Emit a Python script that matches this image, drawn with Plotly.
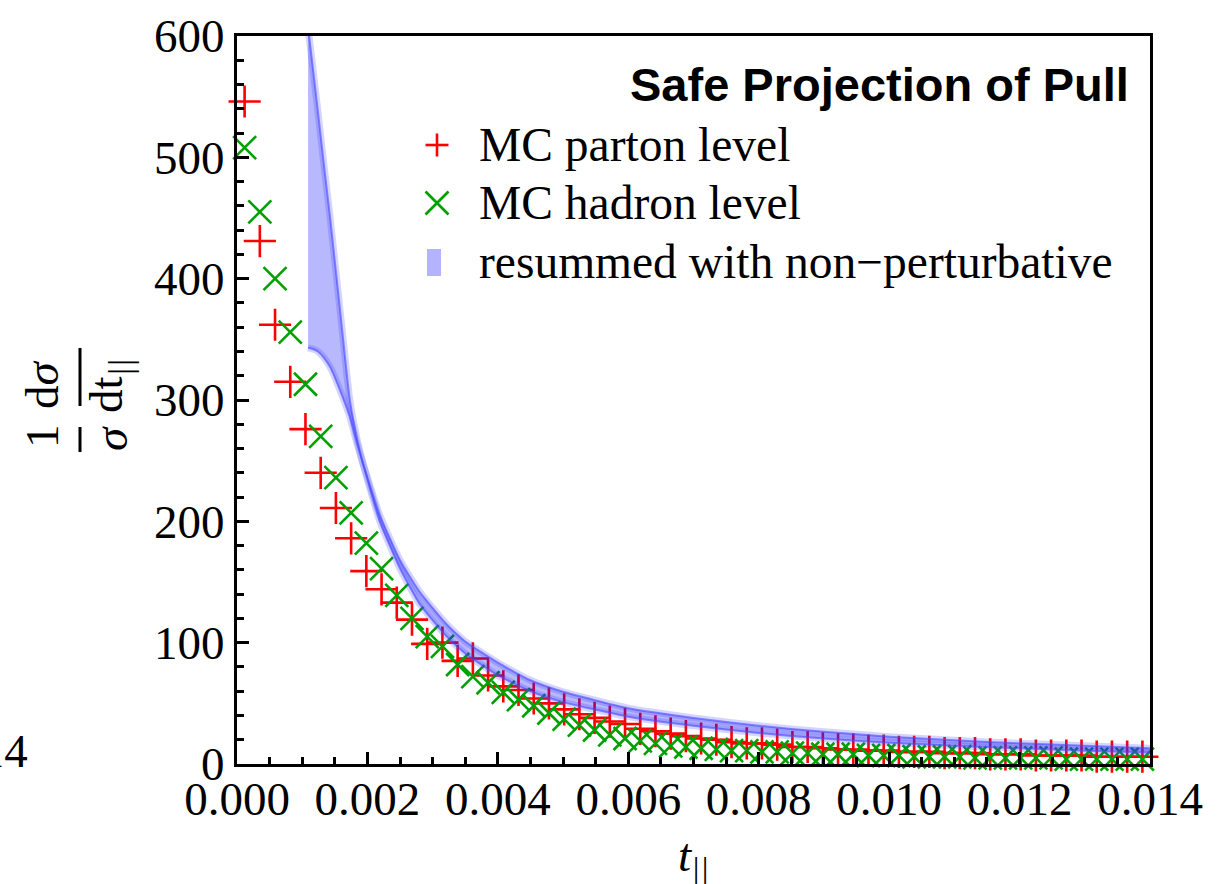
import plotly.graph_objects as go

# ---------------- data ----------------
N_BINS = 60
T_MAX = 0.014
BIN_WIDTH = T_MAX / N_BINS
t_bins = [round((i + 0.5) * BIN_WIDTH, 8) for i in range(N_BINS)]

parton = [546, 431, 362, 315, 276, 240, 211, 186, 159, 144,
          133, 119, 99, 100, 85, 87, 73, 64, 61, 54,
          50, 45, 41, 38, 35, 33, 29, 27, 25, 23,
          21, 20, 18, 17, 17, 16, 14, 14, 13, 12,
          12, 11, 11, 10, 10, 10, 9, 9, 9, 8,
          8, 8, 7, 7, 7, 7, 6, 6, 6, 6]

hadron = [508, 455, 400, 356, 313, 270, 236, 207, 182, 161,
          139, 120, 105, 97, 82, 72, 67, 59, 53, 48,
          42, 37, 32, 28, 24, 21, 19, 17, 15, 14,
          13, 12, 11, 11, 10, 10, 9, 9, 8, 8,
          8, 7, 7, 7, 6, 6, 6, 6, 5, 5,
          5, 5, 5, 5, 4, 4, 4, 4, 4, 4]

band_t = [0.00109, 0.00116, 0.00124, 0.00133, 0.00143, 0.00158, 0.00173,
          0.00184, 0.00193, 0.00219, 0.0025, 0.0028, 0.0032, 0.0035,
          0.004, 0.0045, 0.005, 0.006, 0.007, 0.008, 0.009, 0.010,
          0.011, 0.012, 0.013, 0.014]
band_a = [607, 575, 538, 495, 449, 374, 300,
          268, 248, 200, 161, 132, 106, 91,
          73, 60, 51, 39, 31.5, 25.5, 21, 17.5,
          15, 13, 11, 9.5]
band_b = [343, 342, 340, 335, 327, 308, 286,
          264, 248, 205, 168, 142, 116, 101,
          83.5, 69, 59.5, 46, 38, 31.5, 26.5, 22.5,
          19.5, 17, 15, 13]

x_tick_vals = [0.000, 0.002, 0.004, 0.006, 0.008, 0.010, 0.012, 0.014]
x_tick_text = ["0.000", "0.002", "0.004", "0.006", "0.008", "0.010", "0.012", "0.014"]
y_tick_vals = [0, 100, 200, 300, 400, 500, 600]

legend_labels = ["MC parton level", "MC hadron level", "resummed with non\u2212perturbative"]
title_text = "Safe Projection of Pull"

# ---------------- layout geometry ----------------
W, H = 1227, 884
L, R, T, B = 237, 1150, 36, 764
PW, PH = R - L, B - T


def px(xp):
    return (xp - L) / PW


def py(yp):
    return (B - yp) / PH


SERIF = "Liberation Serif, Times New Roman, serif"
RED = "#ff0000"
GREEN = "#00a000"
BAND_FILL = "rgba(0,0,255,0.28)"
BAND_HALO = "rgba(60,60,255,0.22)"
BAND_LINE = "rgba(70,70,255,0.60)"

fig = go.Figure()

fig.add_trace(go.Scatter(
    x=t_bins, y=parton, mode="markers", showlegend=False, cliponaxis=False,
    marker=dict(symbol="cross-thin", size=23, color=RED,
                line=dict(color=RED, width=2.6))))
fig.add_trace(go.Scatter(
    x=t_bins, y=hadron, mode="markers", showlegend=False, cliponaxis=False,
    marker=dict(symbol="x-thin", size=23, color=GREEN,
                line=dict(color=GREEN, width=2.6))))
# band: halo lines, fill, then edge lines
fig.add_trace(go.Scatter(
    x=band_t, y=band_a, mode="lines", showlegend=False,
    line=dict(color="rgba(0,0,0,0)", width=0, shape="spline", smoothing=0.5)))
fig.add_trace(go.Scatter(
    x=band_t, y=band_b, mode="lines", showlegend=False, fill="tonexty",
    fillcolor=BAND_FILL,
    line=dict(color="rgba(0,0,0,0)", width=0, shape="spline", smoothing=0.5)))
for curve in (band_a, band_b):
    fig.add_trace(go.Scatter(
        x=band_t, y=curve, mode="lines", showlegend=False,
        line=dict(color=BAND_HALO, width=7, shape="spline", smoothing=0.5)))
    fig.add_trace(go.Scatter(
        x=band_t, y=curve, mode="lines", showlegend=False,
        line=dict(color=BAND_LINE, width=2, shape="spline", smoothing=0.5)))

axis_common = dict(
    showline=True, linecolor="black", linewidth=3, mirror=True,
    ticks="inside", tickcolor="black", tickwidth=3, ticklen=12,
    showgrid=False, zeroline=False,
    tickfont=dict(family=SERIF, size=47, color="black"),
)

fig.update_xaxes(range=[0, T_MAX], tickvals=x_tick_vals, ticktext=x_tick_text,
                 ticklabelstandoff=-8,
                 minor=dict(dtick=0.0005, tick0=0, ticks="inside", ticklen=7,
                            tickwidth=2.5, tickcolor="black"),
                 **axis_common)
fig.update_yaxes(range=[0, 600], tickvals=y_tick_vals,
                 minor=dict(dtick=20, tick0=0, ticks="inside", ticklen=7,
                            tickwidth=2.5, tickcolor="black"),
                 **axis_common)

annotations = []
shapes = []

# title inside plot
annotations.append(dict(
    text="<b>" + title_text + "</b>", xref="paper", yref="paper",
    x=px(1131), y=py(84), xanchor="right", yanchor="middle", showarrow=False,
    font=dict(family="Liberation Sans, Arial, sans-serif", size=47, color="black")))

# manual legend
leg_y = [145, 203, 262]
for lab, yy in zip(legend_labels, leg_y):
    annotations.append(dict(
        text=lab, xref="paper", yref="paper", x=px(477), y=py(yy),
        xanchor="left", yanchor="middle", showarrow=False,
        font=dict(family=SERIF, size=47.5, color="black")))

cx, hs = 437, 11.5
# plus symbol
shapes.append(dict(type="line", xref="paper", yref="paper",
                   x0=px(cx - hs), x1=px(cx + hs), y0=py(leg_y[0]), y1=py(leg_y[0]),
                   line=dict(color=RED, width=2.6)))
shapes.append(dict(type="line", xref="paper", yref="paper",
                   x0=px(cx), x1=px(cx), y0=py(leg_y[0] - hs), y1=py(leg_y[0] + hs),
                   line=dict(color=RED, width=2.6)))
# cross symbol
shapes.append(dict(type="line", xref="paper", yref="paper",
                   x0=px(cx - hs), x1=px(cx + hs), y0=py(leg_y[1] - hs), y1=py(leg_y[1] + hs),
                   line=dict(color=GREEN, width=2.6)))
shapes.append(dict(type="line", xref="paper", yref="paper",
                   x0=px(cx - hs), x1=px(cx + hs), y0=py(leg_y[1] + hs), y1=py(leg_y[1] - hs),
                   line=dict(color=GREEN, width=2.6)))
# band swatch
shapes.append(dict(type="rect", xref="paper", yref="paper",
                   x0=px(427), x1=px(441), y0=py(276), y1=py(249),
                   fillcolor="#b3b3ff", line=dict(width=0)))

# y-axis label: (1/sigma) (d sigma / d t)
ylab_font = dict(family=SERIF, size=47, color="black")
annotations += [
    dict(text="1", xref="paper", yref="paper", x=px(42), y=py(436), textangle=-90,
         xanchor="center", yanchor="middle", showarrow=False, font=ylab_font),
    dict(text="d<i>\u03c3</i>", xref="paper", yref="paper", x=px(42), y=py(385), textangle=-90,
         xanchor="center", yanchor="middle", showarrow=False, font=ylab_font),
    dict(text="<i>\u03c3</i>", xref="paper", yref="paper", x=px(111), y=py(438), textangle=-90,
         xanchor="center", yanchor="middle", showarrow=False, font=ylab_font),
    dict(text="dt<sub><i>||</i></sub>", xref="paper", yref="paper", x=px(110), y=py(386),
         textangle=-90, xanchor="center", yanchor="middle", showarrow=False, font=ylab_font),
]
shapes.append(dict(type="line", xref="paper", yref="paper", x0=px(80), x1=px(80),
                   y0=py(452), y1=py(427), line=dict(color="black", width=3)))
shapes.append(dict(type="line", xref="paper", yref="paper", x0=px(80), x1=px(80),
                   y0=py(406), y1=py(348), line=dict(color="black", width=3)))

# x-axis label
annotations.append(dict(
    text="<i>t</i><sub><i>||</i></sub>", xref="paper", yref="paper",
    x=px(693), y=py(858), xanchor="center", yanchor="middle", showarrow=False,
    font=dict(family=SERIF, size=47, color="black")))

# stray label from neighbouring panel, cut off at the left edge
annotations.append(dict(
    text="0.014", xref="paper", yref="paper", x=px(30), y=py(751),
    xanchor="right", yanchor="middle", showarrow=False,
    font=dict(family=SERIF, size=47, color="black")))

fig.update_layout(
    width=W, height=H,
    margin=dict(l=L, r=W - R, t=T, b=H - B, autoexpand=False),
    paper_bgcolor="white", plot_bgcolor="white",
    showlegend=False,
    annotations=annotations, shapes=shapes,
)

fig.write_html("out.html", config=dict(displayModeBar=False))
